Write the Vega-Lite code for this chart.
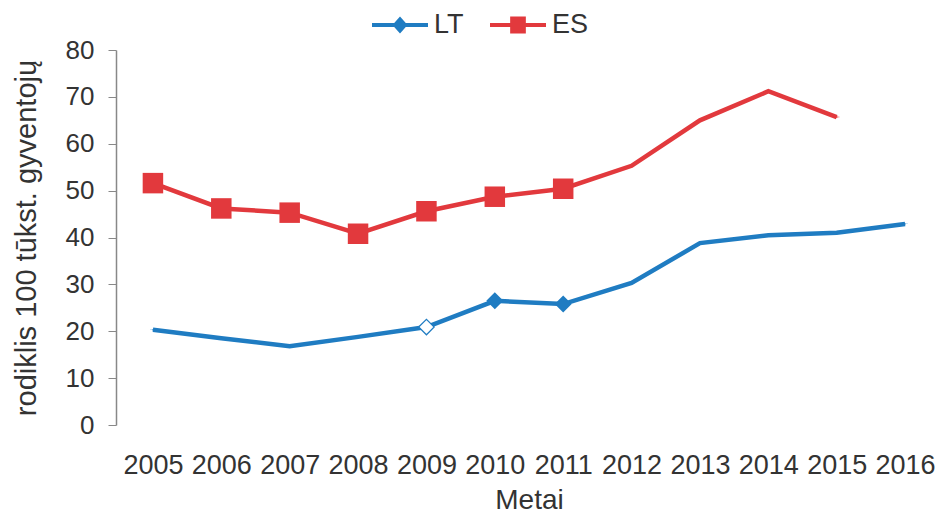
{
  "$schema": "https://vega.github.io/schema/vega-lite/v6.json",
  "autosize": {"type": "none"},
  "width": 826,
  "height": 375,
  "padding": {"left": 116, "top": 50, "right": 0, "bottom": 93},
  "background": "white",
  "config": {
    "font": "Liberation Sans",
    "view": {"stroke": null}
  },
  "data": {
    "values": [
      {"year": 2005, "series": "LT", "value": 20.3},
      {"year": 2006, "series": "LT", "value": 18.5},
      {"year": 2007, "series": "LT", "value": 16.8},
      {"year": 2008, "series": "LT", "value": 18.8},
      {"year": 2009, "series": "LT", "value": 20.9},
      {"year": 2010, "series": "LT", "value": 26.5},
      {"year": 2011, "series": "LT", "value": 25.8},
      {"year": 2012, "series": "LT", "value": 30.3},
      {"year": 2013, "series": "LT", "value": 38.8},
      {"year": 2014, "series": "LT", "value": 40.5},
      {"year": 2015, "series": "LT", "value": 41.0},
      {"year": 2016, "series": "LT", "value": 42.9},
      {"year": 2005, "series": "ES", "value": 51.6},
      {"year": 2006, "series": "ES", "value": 46.2},
      {"year": 2007, "series": "ES", "value": 45.3},
      {"year": 2008, "series": "ES", "value": 40.8},
      {"year": 2009, "series": "ES", "value": 45.6},
      {"year": 2010, "series": "ES", "value": 48.7},
      {"year": 2011, "series": "ES", "value": 50.4},
      {"year": 2012, "series": "ES", "value": 55.3},
      {"year": 2013, "series": "ES", "value": 65.0},
      {"year": 2014, "series": "ES", "value": 71.2},
      {"year": 2015, "series": "ES", "value": 65.7}
    ]
  },
  "encoding": {
    "x": {
      "field": "year",
      "type": "ordinal",
      "scale": {"type": "point", "padding": 0.54},
      "axis": {
        "title": "Metai",
        "titleFontSize": 28,
        "titleFontWeight": "normal",
        "titleColor": "#333333",
        "titlePadding": 8,
        "labelAngle": 0,
        "labelFontSize": 27,
        "labelColor": "#333333",
        "labelPadding": 27,
        "domain": false,
        "ticks": false
      }
    },
    "y": {
      "field": "value",
      "type": "quantitative",
      "scale": {"domain": [0, 80], "nice": false},
      "axis": {
        "title": "rodiklis 100 tūkst. gyventojų",
        "titleFontSize": 29,
        "titleFontWeight": "normal",
        "titleColor": "#333333",
        "titlePadding": 24,
        "values": [0, 10, 20, 30, 40, 50, 60, 70, 80],
        "labelFontSize": 26,
        "labelColor": "#333333",
        "labelPadding": 14,
        "tickSize": 8,
        "tickColor": "#888888",
        "domainColor": "#888888",
        "domainWidth": 1.5,
        "grid": false
      }
    }
  },
  "layer": [
    {
      "mark": {"type": "line", "strokeWidth": 4.5},
      "encoding": {
        "color": {
          "field": "series",
          "type": "nominal",
          "scale": {"domain": ["LT", "ES"], "range": ["#1f7cc2", "#e2393d"]},
          "legend": {
            "title": null,
            "orient": "none",
            "direction": "horizontal",
            "legendX": 256,
            "legendY": -53,
            "labelFontSize": 27,
            "labelColor": "#333333",
            "labelOffset": 6,
            "columnPadding": 26,
            "symbolSize": 3136,
            "symbolStrokeWidth": 0
          }
        },
        "shape": {
          "field": "series",
          "type": "nominal",
          "scale": {
            "domain": ["LT", "ES"],
            "range": [
              "M-1,-0.07H1V0.07H-1Z M0,-0.3L0.27,0L0,0.3L-0.27,0Z",
              "M-1,-0.07H1V0.07H-1Z M-0.28,-0.3H0.28V0.3H-0.28Z"
            ]
          }
        }
      }
    },
    {
      "transform": [{"filter": "datum.series == 'ES' && datum.year <= 2011"}],
      "mark": {"type": "point", "shape": "square", "filled": true, "size": 420, "color": "#e2393d", "opacity": 1}
    },
    {
      "transform": [{"filter": "datum.series == 'LT' && (datum.year == 2010 || datum.year == 2011)"}],
      "mark": {"type": "point", "shape": "diamond", "filled": true, "size": 290, "color": "#1f7cc2", "opacity": 1}
    },
    {
      "transform": [{"filter": "datum.series == 'LT' && datum.year == 2009"}],
      "mark": {"type": "point", "shape": "diamond", "filled": true, "size": 240, "fill": "white", "stroke": "#1f7cc2", "strokeWidth": 1.2, "opacity": 1}
    }
  ]
}
